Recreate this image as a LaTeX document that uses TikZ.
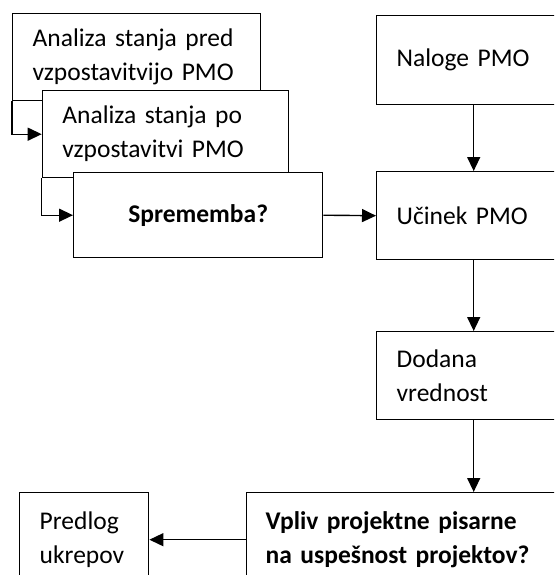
\documentclass[tikz,border=0pt]{standalone}
\usepackage{fontspec}
\setmainfont{Carlito}
\usetikzlibrary{arrows.meta}

\begin{document}
\begin{tikzpicture}[x=1pt,y=-1pt,line width=1.4pt,
  box/.style={draw,fill=white,anchor=north west,align=left,inner xsep=20pt,inner ysep=0pt,
    font=\fontsize{25.5}{34}\selectfont},
  pil/.style={-{Triangle[length=14pt,width=13pt]}}]
\useasboundingbox (0,0) rectangle (554,575);
\clip (0,0) rectangle (554,575);
% levi stolpec
\node[box,text width=208pt,minimum height=87pt] (pred) at (12,13) {Analiza stanja pred\\vzpostavitvijo PMO};
\node[box,text width=206pt,minimum height=87pt] (po) at (41.7,90) {Analiza stanja po\\vzpostavitvi PMO};
\node[box,text width=209pt,minimum height=85pt,align=center,font=\fontsize{25.5}{34}\selectfont\bfseries] (spr) at (73,172) {Sprememba?};
% desni stolpec
\node[box,text width=154pt,minimum height=89pt] (naloge) at (376,15) {Naloge PMO};
\node[box,text width=154pt,minimum height=88pt] (ucinek) at (376,171) {Učinek PMO};
\node[box,text width=154pt,minimum height=88pt] (dodana) at (376,331) {Dodana\\vrednost};
\node[box,text width=416pt,inner xsep=19pt,minimum height=94pt,font=\fontsize{25.5}{34}\selectfont\bfseries] (vpliv) at (246,492) {Vpliv projektne pisarne\\na uspešnost projektov?};
\node[box,text width=89pt,minimum height=94pt] (predlog) at (19,492) {Predlog\\ukrepov};
% povezave
\draw[pil] (pred.south west) |- (po.west);
\draw[pil] (po.south west) |- (spr.west);
\draw[pil] (spr.east) -- (ucinek.west);
\draw[pil] (naloge.south) -- (ucinek.north);
\draw[pil] (ucinek.south) -- (dodana.north);
\draw[pil] (dodana.south) -- (vpliv.north);
\draw[pil] (vpliv.west) -- (predlog.east);
\end{tikzpicture}
\end{document}
